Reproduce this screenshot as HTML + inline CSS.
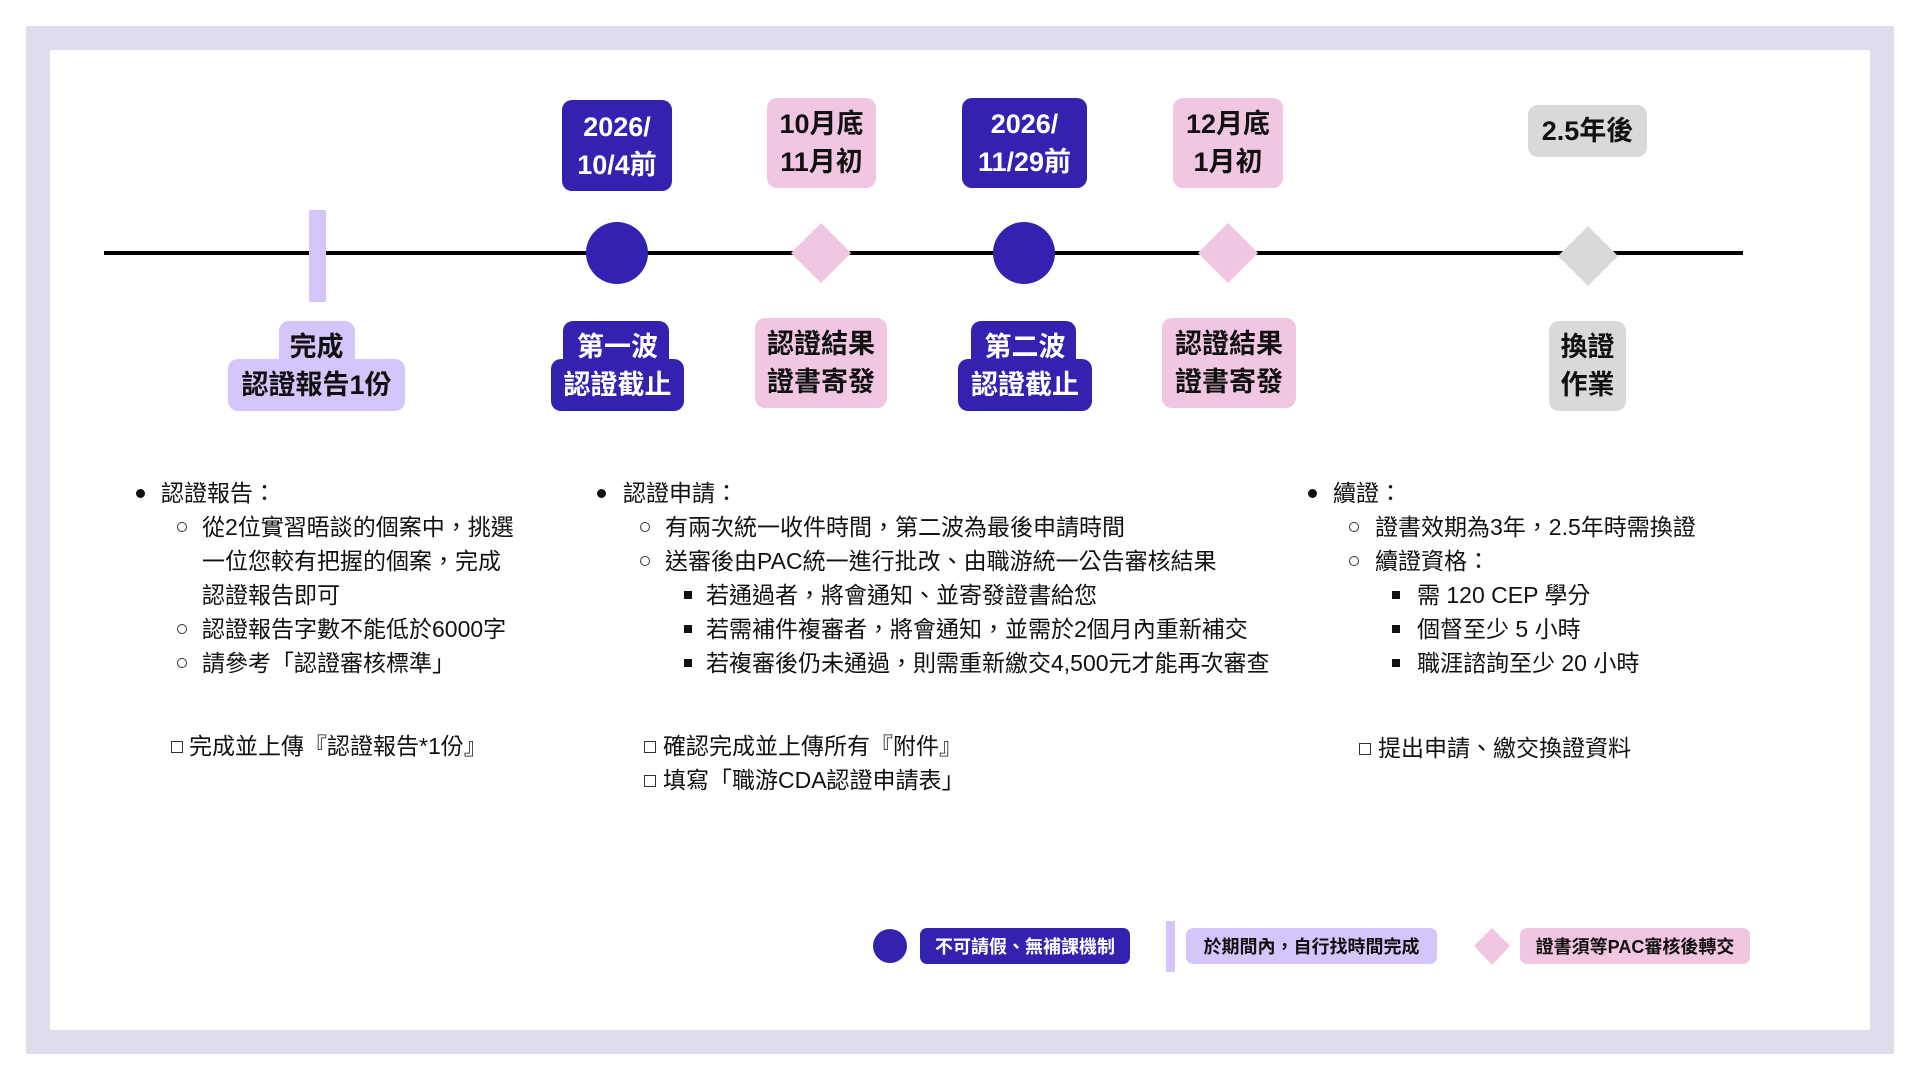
<!DOCTYPE html>
<html><head><meta charset="utf-8">
<style>
*{margin:0;padding:0;box-sizing:border-box}
body{width:1920px;height:1080px;background:#fff;position:relative;overflow:hidden;font-family:"Liberation Sans","Noto Sans CJK TC",sans-serif;color:#111}
.a{position:absolute}
.frame{left:26px;top:26px;width:1868px;height:1028px;border:24px solid #e1dbee}
.box{position:absolute;display:flex;flex-direction:column;align-items:center;justify-content:center;font-weight:bold;font-size:27px;line-height:38px;border-radius:10px;text-align:center;white-space:nowrap}
.dk{background:#3322b0;color:#fff}
.pk{background:#f0c6e0;color:#111}
.lv{background:#d4c6fb;color:#111}
.gy{background:#d9d9d9;color:#111}
.t{position:absolute;font-size:23px;line-height:34px;white-space:nowrap}
.dot{position:absolute;width:9px;height:9px;border-radius:50%;background:#111}
.ring{position:absolute;width:10px;height:10px;border-radius:50%;border:1.5px solid #333}
.sq{position:absolute;width:8px;height:8px;background:#111}
.cb{position:absolute;width:12px;height:12px;border:1.5px solid #333}
.dia{position:absolute;transform:rotate(45deg) scaleX(1) }
.lg{position:absolute;display:flex;align-items:center;justify-content:center;font-weight:bold;font-size:18px;border-radius:7px;white-space:nowrap}
</style></head><body>
<div class="a frame"></div>

<!-- timeline -->
<div class="a" style="left:104px;top:251px;width:1639px;height:4px;background:#000"></div>
<div class="a" style="left:309px;top:210px;width:17px;height:92px;background:#d4c6fb"></div>
<div class="a" style="left:586px;top:222px;width:62px;height:62px;border-radius:50%;background:#3322b0"></div>
<div class="a" style="left:993px;top:222px;width:62px;height:62px;border-radius:50%;background:#3322b0"></div>
<svg class="a" style="left:0;top:0" width="1920" height="1080">
<polygon points="821,223 851,253 821,283 791,253" fill="#f0c6e0"/>
<polygon points="1228,223 1258,253 1228,283 1198,253" fill="#f0c6e0"/>
<polygon points="1588,226 1618,256 1588,286 1558,256" fill="#d9d9d9"/>
<polygon points="1492,928 1510,946 1492,965 1474,946" fill="#f0c6e0"/>
</svg>

<!-- top labels -->
<div class="box dk" style="left:562px;top:100px;width:110px;height:91px"><div>2026/</div><div>10/4前</div></div>
<div class="box pk" style="left:767px;top:98px;width:109px;height:90px"><div>10月底</div><div>11月初</div></div>
<div class="box dk" style="left:962px;top:98px;width:125px;height:90px"><div>2026/</div><div>11/29前</div></div>
<div class="box pk" style="left:1173px;top:98px;width:110px;height:90px"><div>12月底</div><div>1月初</div></div>
<div class="box gy" style="left:1528px;top:105px;width:119px;height:52px"><div>2.5年後</div></div>

<!-- bottom labels -->
<div class="box lv" style="left:279px;top:321px;width:76px;height:50px"></div>
<div class="box lv" style="left:228px;top:359px;width:177px;height:52px"></div>
<div class="box" style="left:228px;top:321px;width:177px;height:90px;background:none"><div>完成</div><div>認證報告1份</div></div>

<div class="box dk" style="left:563px;top:321px;width:106px;height:50px"></div>
<div class="box dk" style="left:551px;top:359px;width:133px;height:52px"></div>
<div class="box" style="left:551px;top:321px;width:133px;height:90px;background:none;color:#fff"><div>第一波</div><div>認證截止</div></div>

<div class="box pk" style="left:755px;top:318px;width:132px;height:90px"><div>認證結果</div><div>證書寄發</div></div>

<div class="box dk" style="left:971px;top:321px;width:105px;height:50px"></div>
<div class="box dk" style="left:958px;top:359px;width:134px;height:52px"></div>
<div class="box" style="left:958px;top:321px;width:134px;height:90px;background:none;color:#fff"><div>第二波</div><div>認證截止</div></div>

<div class="box pk" style="left:1162px;top:318px;width:134px;height:90px"><div>認證結果</div><div>證書寄發</div></div>
<div class="box gy" style="left:1549px;top:321px;width:77px;height:90px"><div>換證</div><div>作業</div></div>

<!-- column 1 -->
<div class="dot" style="left:136px;top:489px"></div>
<div class="t" style="left:161px;top:476px">認證報告：</div>
<div class="ring" style="left:177px;top:522px"></div>
<div class="t" style="left:202px;top:510px">從2位實習晤談的個案中，挑選</div>
<div class="t" style="left:202px;top:544px">一位您較有把握的個案，完成</div>
<div class="t" style="left:202px;top:578px">認證報告即可</div>
<div class="ring" style="left:177px;top:624px"></div>
<div class="t" style="left:202px;top:612px">認證報告字數不能低於6000字</div>
<div class="ring" style="left:177px;top:658px"></div>
<div class="t" style="left:202px;top:646px">請參考「認證審核標準」</div>
<div class="cb" style="left:171px;top:741px"></div>
<div class="t" style="left:189px;top:729px">完成並上傳『認證報告*1份』</div>

<!-- column 2 -->
<div class="dot" style="left:597px;top:489px"></div>
<div class="t" style="left:623px;top:476px">認證申請：</div>
<div class="ring" style="left:640px;top:522px"></div>
<div class="t" style="left:665px;top:510px">有兩次統一收件時間，第二波為最後申請時間</div>
<div class="ring" style="left:640px;top:556px"></div>
<div class="t" style="left:665px;top:544px">送審後由PAC統一進行批改、由職游統一公告審核結果</div>
<div class="sq" style="left:684px;top:591px"></div>
<div class="t" style="left:706px;top:578px">若通過者，將會通知、並寄發證書給您</div>
<div class="sq" style="left:684px;top:625px"></div>
<div class="t" style="left:706px;top:612px">若需補件複審者，將會通知，並需於2個月內重新補交</div>
<div class="sq" style="left:684px;top:659px"></div>
<div class="t" style="left:706px;top:646px">若複審後仍未通過，則需重新繳交4,500元才能再次審查</div>
<div class="cb" style="left:644px;top:741px"></div>
<div class="t" style="left:663px;top:729px">確認完成並上傳所有『附件』</div>
<div class="cb" style="left:644px;top:775px"></div>
<div class="t" style="left:663px;top:763px">填寫「職游CDA認證申請表」</div>

<!-- column 3 -->
<div class="dot" style="left:1308px;top:489px"></div>
<div class="t" style="left:1333px;top:476px">續證：</div>
<div class="ring" style="left:1349px;top:522px"></div>
<div class="t" style="left:1375px;top:510px">證書效期為3年，2.5年時需換證</div>
<div class="ring" style="left:1349px;top:556px"></div>
<div class="t" style="left:1375px;top:544px">續證資格：</div>
<div class="sq" style="left:1392px;top:591px"></div>
<div class="t" style="left:1417px;top:578px">需 120 CEP 學分</div>
<div class="sq" style="left:1392px;top:625px"></div>
<div class="t" style="left:1417px;top:612px">個督至少 5 小時</div>
<div class="sq" style="left:1392px;top:659px"></div>
<div class="t" style="left:1417px;top:646px">職涯諮詢至少 20 小時</div>
<div class="cb" style="left:1359px;top:743px"></div>
<div class="t" style="left:1378px;top:731px">提出申請、繳交換證資料</div>

<!-- legend -->
<div class="a" style="left:873px;top:929px;width:34px;height:34px;border-radius:50%;background:#3322b0"></div>
<div class="lg dk" style="left:920px;top:928px;width:210px;height:36px">不可請假、無補課機制</div>
<div class="a" style="left:1166px;top:921px;width:9px;height:51px;background:#d4c6fb"></div>
<div class="lg lv" style="left:1186px;top:928px;width:251px;height:36px">於期間內，自行找時間完成</div>
<div class="lg pk" style="left:1520px;top:928px;width:230px;height:36px">證書須等PAC審核後轉交</div>
</body></html>
